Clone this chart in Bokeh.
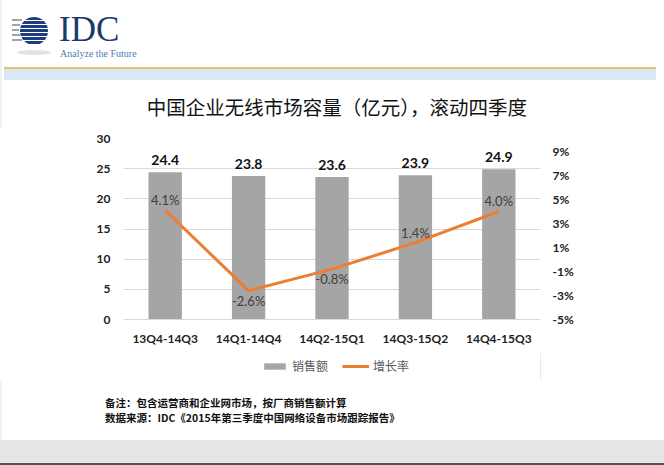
from bokeh.plotting import figure
from bokeh.models import (Range1d, LinearAxis, FixedTicker, PrintfTickFormatter,
                          Legend, LegendItem, ColumnDataSource, FactorRange, Div)
from bokeh.layouts import column
from bokeh.core.properties import value
from bokeh.embed import file_html
from bokeh.resources import INLINE

# ---------------- data ----------------
periods = ["13Q4-14Q3", "14Q1-14Q4", "14Q2-15Q1", "14Q3-15Q2", "14Q4-15Q3"]
sales = [24.4, 23.8, 23.6, 23.9, 24.9]          # 亿元
growth = [4.1, -2.6, -0.8, 1.4, 4.0]            # %
sales_ticks = [0, 5, 10, 15, 20, 25, 30]
growth_ticks = [-5, -3, -1, 1, 3, 5, 7, 9]

title_text = "中国企业无线市场容量（亿元），滚动四季度"
legend_sales = "销售额"
legend_growth = "增长率"
note_1 = "备注：包含运营商和企业网市场，按厂商销售额计算"
note_2 = "数据来源：IDC《2015年第三季度中国网络设备市场跟踪报告》"

CJK = "Noto Sans CJK SC"
W = 664
BAR_COLOR = "#A5A5A5"
LINE_COLOR = "#ED7D31"

# ---------------- header (HTML) ----------------
def ab(l, t, w, h, extra=""):
    return (f'<div style="position:absolute;left:{l}px;top:{t}px;width:{w}px;'
            f'height:{h}px;{extra}"></div>')

stripes = "".join(ab(12, y, wd, 1.4, "background:#9AA3B0;")
                  for y, wd in [(19.3, 10), (24.3, 8), (29.3, 7), (34.3, 8), (39.3, 10)])
header_html = (
    f'<div style="position:relative;width:{W}px;height:128px;background:white;overflow:hidden;">'
    + ab(0, 0, 2, 128, "background:#F2F2F2;")
    + ab(17, 50, 34, 5, "background:#E2E2E2;border-radius:50%;")
    + stripes
    + ab(20, 17, 28, 28, "border-radius:50%;background:repeating-linear-gradient("
         "to bottom,#1D3E7C 0px,#1D3E7C 3px,#ffffff 3px,#ffffff 4px);")
    + '<div style="position:absolute;left:59px;top:15px;font-family:\'Liberation Serif\';'
      'font-size:35px;line-height:30px;height:30px;overflow:hidden;color:#1B3A6B;">IDC</div>'
    + '<div style="position:absolute;left:60px;top:48px;font-family:\'Liberation Sans Narrow\';'
      'font-size:10px;line-height:11px;color:#4A7DB8;white-space:nowrap;">Analyze the Future</div>'
    + ab(4, 66.5, 652, 2.5, "background:#EBBE72;")
    + ab(4, 69, 652, 11, "background:#D8E9F3;")
    + f'<div style="position:absolute;left:10px;top:94px;width:654px;text-align:center;'
      f'font-family:\'{CJK}\';font-size:19.5px;line-height:26px;color:#111111;'
      f'white-space:nowrap;">{title_text}</div>'
    + '</div>'
)
header = Div(text=header_html, width=W, height=128, margin=0)

# ---------------- chart ----------------
src = ColumnDataSource(dict(period=periods, sales=sales, growth=growth,
                            sales_lbl=[f"{v:.1f}" for v in sales],
                            growth_lbl=[f"{v:.1f}%" for v in growth],
                            g_dy=[-10 if g > 0 else 10 for g in growth]))

p = figure(width=W, height=224, x_range=FactorRange(*periods, range_padding=0),
           y_range=Range1d(0, 30), toolbar_location=None, output_backend="svg",
           min_border_left=123, min_border_right=124, min_border_top=10,
           min_border_bottom=33, margin=0)
p.outline_line_color = None
p.background_fill_color = "white"
p.border_fill_color = "white"
p.extra_y_ranges = {"pct": Range1d(-5, 10.08)}

bars = p.vbar(x="period", top="sales", width=0.4, source=src,
              fill_color=BAR_COLOR, line_color=None)
line = p.line(x="period", y="growth", source=src, y_range_name="pct",
              line_color=LINE_COLOR, line_width=3)

p.text(x="period", y="sales", text="sales_lbl", source=src, y_offset=-7,
       text_font=value("Lato"), text_font_style="bold", text_font_size="14px",
       text_color="#111111", text_align="center", text_baseline="bottom")
p.text(x="period", y="growth", text="growth_lbl", source=src, y_range_name="pct",
       y_offset="g_dy", text_font=value("Lato"), text_font_size="13px",
       text_color="#404040", text_align="center", text_baseline="middle")

p.yaxis.ticker = FixedTicker(ticks=sales_ticks)
for ax in (p.xaxis[0], p.yaxis[0]):
    ax.axis_line_color = None
    ax.major_tick_line_color = None
    ax.minor_tick_line_color = None
    ax.major_label_text_font = "Lato"
    ax.major_label_text_font_style = "bold"
    ax.major_label_text_font_size = "12px"
    ax.major_label_text_color = "#222222"
p.xaxis.axis_line_color = "#D9D9D9"
p.xaxis.major_label_standoff = 5
p.yaxis.major_label_standoff = 7
p.xgrid.visible = False
p.ygrid.grid_line_color = "#D9D9D9"

rax = LinearAxis(y_range_name="pct", ticker=FixedTicker(ticks=growth_ticks),
                 formatter=PrintfTickFormatter(format="%d%%"))
rax.axis_line_color = None
rax.major_tick_line_color = None
rax.minor_tick_line_color = None
rax.major_label_text_font = "Lato"
rax.major_label_text_font_style = "bold"
rax.major_label_text_font_size = "12px"
rax.major_label_text_color = "#222222"
rax.major_label_standoff = 6
p.add_layout(rax, "right")

# ---------------- legend strip ----------------
# legend proxies: same styles as the chart's glyphs, placed outside the visible range
lg = figure(width=W, height=28, x_range=Range1d(0, 1), y_range=Range1d(0, 1),
            x_axis_type=None, y_axis_type=None, toolbar_location=None,
            output_backend="svg", min_border_left=123, min_border_right=124,
            min_border_top=0, min_border_bottom=0, margin=0)
lg.grid.visible = False
lg.outline_line_color = None
lg_bar = lg.vbar(x=[5], top=[1], width=0.4, fill_color=BAR_COLOR, line_color=None)
lg_line = lg.line(x=[5, 6], y=[0.5, 0.5], line_color=LINE_COLOR, line_width=3)
legend = Legend(items=[LegendItem(label=legend_sales, renderers=[lg_bar]),
                       LegendItem(label=legend_growth, renderers=[lg_line])],
                orientation="horizontal", location=(138, 6),
                label_text_font=CJK, label_text_font_size="12px",
                label_text_color="#595959", glyph_width=27, glyph_height=8,
                label_standoff=4, spacing=14, border_line_color=None,
                background_fill_alpha=0, padding=4, margin=0)
lg.add_layout(legend, "center")

# ---------------- footer (HTML) ----------------
footer_html = (
    f'<div style="position:relative;width:{W}px;height:85px;background:white;overflow:hidden;">'
    + ab(0, 0, 2, 60, "background:#F2F2F2;")
    + f'<div style="position:absolute;left:105px;top:15px;font-family:\'{CJK}\';'
      f'font-size:10.5px;font-weight:bold;line-height:15px;color:#111111;white-space:nowrap;">'
      f'{note_1}<br>{note_2}</div>'
    + ab(0, 60, W, 23, "background:#E6E6E6;")
    + ab(0, 83, W, 2, "background:#555555;")
    + '</div>'
)
footer = Div(text=footer_html, width=W, height=85, margin=0)

layout = column(header, p, lg, footer, spacing=0)
open("out.html", "w").write(file_html(layout, INLINE))
